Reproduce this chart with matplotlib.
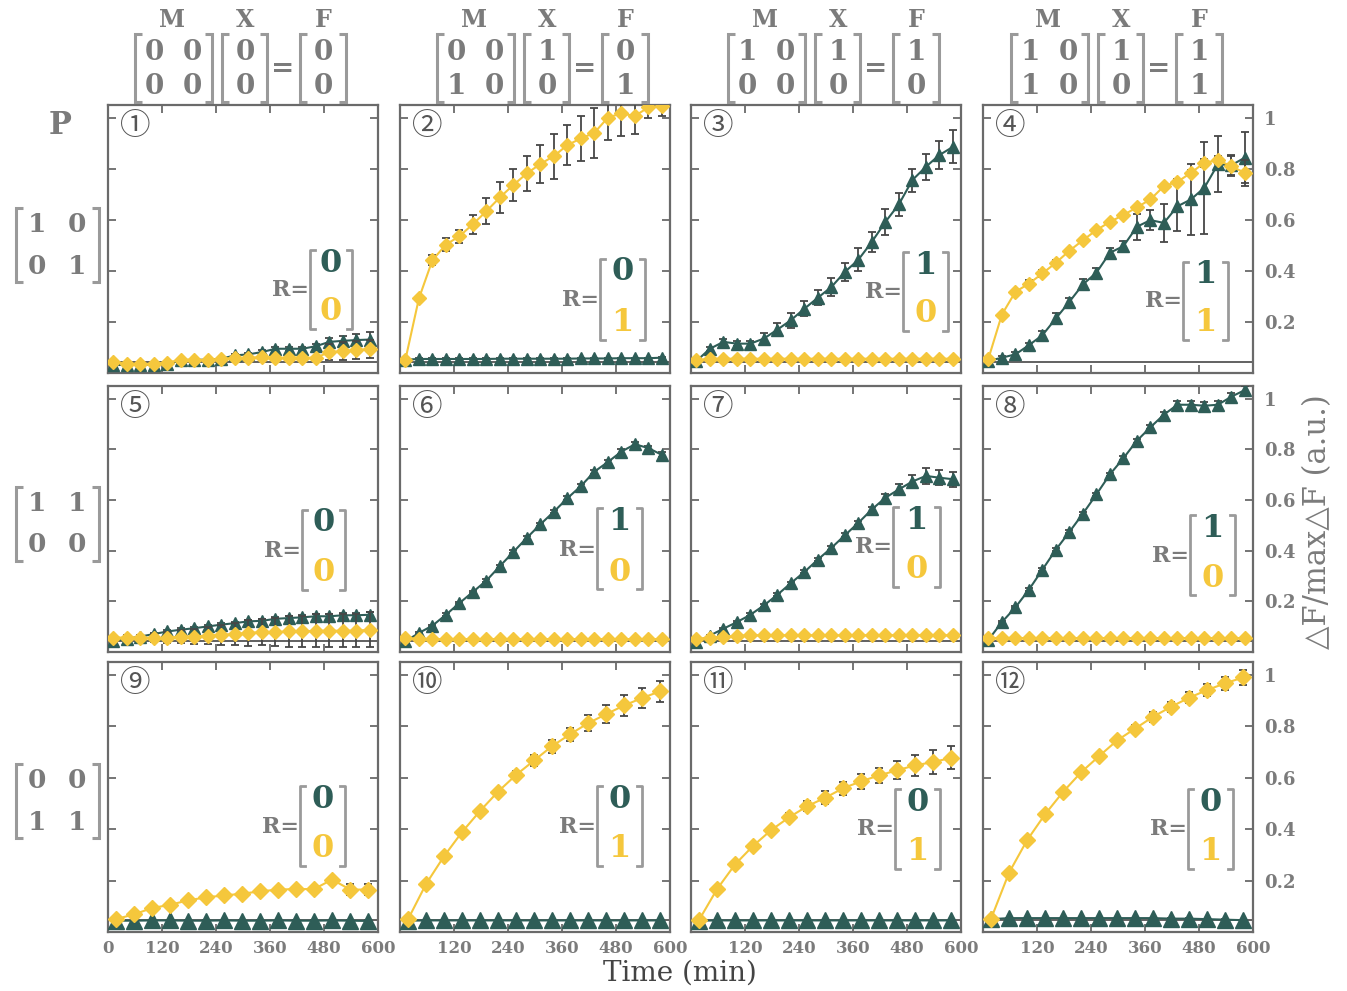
import numpy as np
import matplotlib.pyplot as plt
from matplotlib.lines import Line2D

W, H = 1347, 991

# tiempos de muestreo (min)
t20 = [12, 42, 72, 102, 132, 162, 192, 222, 252, 282, 312, 342, 372, 402, 432, 462, 492, 522, 552, 582]
t15 = [18, 58, 98, 138, 178, 218, 258, 298, 338, 378, 418, 458, 498, 538, 578]

# serie verde (triangulos), un panel por lista
green = [
    [0.030, 0.033, 0.033, 0.033, 0.037, 0.050, 0.052, 0.052, 0.056, 0.069, 0.073, 0.082, 0.095, 0.095, 0.095, 0.105, 0.122, 0.126, 0.129, 0.131],
    [0.052, 0.055, 0.055, 0.055, 0.055, 0.055, 0.055, 0.056, 0.056, 0.056, 0.056, 0.056, 0.056, 0.057, 0.057, 0.057, 0.058, 0.058, 0.058, 0.060],
    [0.047, 0.095, 0.122, 0.115, 0.115, 0.135, 0.170, 0.207, 0.252, 0.295, 0.337, 0.396, 0.444, 0.514, 0.592, 0.661, 0.756, 0.808, 0.854, 0.886],
    [0.047, 0.060, 0.073, 0.109, 0.148, 0.214, 0.279, 0.347, 0.393, 0.471, 0.497, 0.573, 0.599, 0.588, 0.653, 0.680, 0.726, 0.818, 0.814, 0.844],
    [0.044, 0.052, 0.061, 0.071, 0.081, 0.088, 0.094, 0.101, 0.108, 0.114, 0.121, 0.123, 0.131, 0.134, 0.137, 0.141, 0.141, 0.145, 0.145, 0.147],
    [0.042, 0.075, 0.104, 0.147, 0.193, 0.237, 0.282, 0.339, 0.395, 0.451, 0.504, 0.554, 0.607, 0.655, 0.712, 0.750, 0.791, 0.820, 0.805, 0.778],
    [0.039, 0.065, 0.092, 0.118, 0.147, 0.184, 0.226, 0.272, 0.316, 0.365, 0.411, 0.461, 0.510, 0.563, 0.609, 0.642, 0.673, 0.695, 0.688, 0.682],
    [0.048, 0.118, 0.176, 0.246, 0.325, 0.404, 0.474, 0.546, 0.622, 0.701, 0.765, 0.834, 0.887, 0.937, 0.976, 0.976, 0.972, 0.976, 1.008, 1.034],
    [0.044, 0.044, 0.045, 0.045, 0.044, 0.044, 0.045, 0.044, 0.044, 0.045, 0.044, 0.044, 0.045, 0.044, 0.043],
    [0.044, 0.045, 0.045, 0.045, 0.045, 0.045, 0.045, 0.045, 0.045, 0.045, 0.045, 0.045, 0.045, 0.045, 0.045],
    [0.044, 0.045, 0.045, 0.045, 0.045, 0.045, 0.045, 0.045, 0.045, 0.045, 0.045, 0.045, 0.045, 0.045, 0.045],
    [0.050, 0.054, 0.054, 0.054, 0.054, 0.054, 0.054, 0.054, 0.054, 0.054, 0.052, 0.052, 0.050, 0.048, 0.046],
]
green_err = [
    [0.003, 0.003, 0.003, 0.004, 0.004, 0.005, 0.005, 0.005, 0.006, 0.006, 0.007, 0.008, 0.008, 0.008, 0.008, 0.010, 0.015, 0.020, 0.025, 0.030],
    [0.002] * 20,
    [0.005, 0.008, 0.010, 0.010, 0.012, 0.020, 0.025, 0.030, 0.030, 0.030, 0.035, 0.035, 0.045, 0.040, 0.050, 0.045, 0.045, 0.050, 0.055, 0.065],
    [0.005, 0.008, 0.008, 0.010, 0.015, 0.020, 0.015, 0.020, 0.020, 0.020, 0.020, 0.050, 0.040, 0.076, 0.095, 0.140, 0.180, 0.110, 0.040, 0.100],
    [0.003, 0.003, 0.004, 0.004, 0.005, 0.005, 0.005, 0.006, 0.006, 0.006, 0.007, 0.007, 0.008, 0.008, 0.008, 0.009, 0.009, 0.010, 0.010, 0.010],
    [0.003, 0.004, 0.004, 0.005, 0.005, 0.005, 0.006, 0.006, 0.006, 0.007, 0.007, 0.007, 0.008, 0.008, 0.008, 0.008, 0.009, 0.010, 0.010, 0.010],
    [0.003, 0.004, 0.004, 0.005, 0.005, 0.005, 0.006, 0.006, 0.006, 0.007, 0.007, 0.008, 0.008, 0.010, 0.015, 0.020, 0.025, 0.030, 0.030, 0.030],
    [0.003, 0.004, 0.004, 0.005, 0.005, 0.005, 0.006, 0.006, 0.006, 0.007, 0.007, 0.008, 0.008, 0.010, 0.015, 0.015, 0.015, 0.015, 0.015, 0.015],
    [0.002] * 15,
    [0.002] * 15,
    [0.002] * 15,
    [0.002] * 15,
]

# serie amarilla (rombos)
yellow = [
    [0.043, 0.037, 0.034, 0.037, 0.041, 0.052, 0.052, 0.050, 0.056, 0.059, 0.059, 0.063, 0.060, 0.060, 0.060, 0.060, 0.082, 0.086, 0.089, 0.095],
    [0.052, 0.292, 0.442, 0.503, 0.536, 0.583, 0.634, 0.688, 0.737, 0.782, 0.819, 0.850, 0.893, 0.919, 0.941, 1.001, 1.017, 1.007, 1.041, 1.046],
    [0.050, 0.056, 0.056, 0.056, 0.056, 0.056, 0.056, 0.056, 0.056, 0.056, 0.056, 0.056, 0.056, 0.056, 0.056, 0.056, 0.056, 0.056, 0.056, 0.056],
    [0.056, 0.229, 0.318, 0.350, 0.390, 0.432, 0.479, 0.520, 0.560, 0.592, 0.619, 0.649, 0.680, 0.732, 0.749, 0.784, 0.824, 0.834, 0.810, 0.784],
    [0.057, 0.057, 0.057, 0.055, 0.057, 0.061, 0.061, 0.065, 0.068, 0.071, 0.075, 0.079, 0.079, 0.081, 0.081, 0.084, 0.084, 0.084, 0.084, 0.088],
    [0.055, 0.052, 0.051, 0.051, 0.051, 0.051, 0.051, 0.051, 0.051, 0.051, 0.051, 0.051, 0.051, 0.051, 0.051, 0.051, 0.051, 0.051, 0.051, 0.051],
    [0.052, 0.057, 0.061, 0.064, 0.066, 0.066, 0.066, 0.066, 0.066, 0.066, 0.066, 0.066, 0.066, 0.066, 0.066, 0.066, 0.066, 0.066, 0.066, 0.066],
    [0.054, 0.056, 0.055, 0.055, 0.055, 0.055, 0.055, 0.055, 0.055, 0.055, 0.055, 0.055, 0.055, 0.055, 0.055, 0.055, 0.055, 0.055, 0.055, 0.055],
    [0.050, 0.069, 0.093, 0.106, 0.123, 0.135, 0.142, 0.149, 0.158, 0.165, 0.167, 0.167, 0.204, 0.165, 0.165],
    [0.050, 0.187, 0.295, 0.389, 0.471, 0.546, 0.611, 0.667, 0.723, 0.769, 0.812, 0.847, 0.881, 0.910, 0.936],
    [0.047, 0.167, 0.263, 0.335, 0.396, 0.446, 0.489, 0.522, 0.559, 0.586, 0.609, 0.629, 0.648, 0.661, 0.677],
    [0.052, 0.231, 0.357, 0.458, 0.545, 0.621, 0.684, 0.745, 0.791, 0.837, 0.876, 0.911, 0.941, 0.967, 0.990],
]
yellow_err = [
    [0.003, 0.003, 0.003, 0.003, 0.004, 0.004, 0.004, 0.005, 0.005, 0.005, 0.006, 0.006, 0.006, 0.007, 0.007, 0.008, 0.030, 0.035, 0.035, 0.035],
    [0.000, 0.005, 0.020, 0.026, 0.026, 0.037, 0.050, 0.060, 0.063, 0.067, 0.076, 0.088, 0.080, 0.088, 0.097, 0.090, 0.090, 0.070, 0.040, 0.040],
    [0.002] * 20,
    [0.002, 0.005, 0.008, 0.015, 0.015, 0.010, 0.008, 0.008, 0.008, 0.008, 0.008, 0.008, 0.008, 0.010, 0.010, 0.012, 0.015, 0.015, 0.040, 0.050],
    [0.005, 0.010, 0.010, 0.015, 0.020, 0.025, 0.030, 0.035, 0.040, 0.045, 0.050, 0.050, 0.055, 0.060, 0.060, 0.065, 0.065, 0.065, 0.065, 0.070],
    [0.002] * 20,
    [0.002] * 20,
    [0.002] * 20,
    [0.003, 0.003, 0.004, 0.004, 0.005, 0.005, 0.005, 0.006, 0.006, 0.006, 0.007, 0.007, 0.008, 0.020, 0.020],
    [0.004, 0.005, 0.005, 0.006, 0.010, 0.012, 0.015, 0.020, 0.025, 0.025, 0.030, 0.035, 0.040, 0.040, 0.040],
    [0.000, 0.005, 0.005, 0.005, 0.010, 0.015, 0.020, 0.025, 0.025, 0.030, 0.030, 0.035, 0.040, 0.045, 0.045],
    [0.005, 0.008, 0.008, 0.008, 0.008, 0.008, 0.010, 0.012, 0.015, 0.020, 0.020, 0.022, 0.025, 0.025, 0.030],
]

# matrices de los encabezados
m_mats = [[["0", "0"], ["0", "0"]], [["0", "0"], ["1", "0"]], [["1", "0"], ["0", "0"]], [["1", "0"], ["1", "0"]]]
x_vecs = [["0", "0"], ["1", "0"], ["1", "0"], ["1", "0"]]
f_vecs = [["0", "0"], ["0", "1"], ["1", "0"], ["1", "1"]]
p_mats = [[["1", "0"], ["0", "1"]], [["1", "1"], ["0", "0"]], [["0", "0"], ["1", "1"]]]
r_vecs = [["0", "0"], ["0", "1"], ["1", "0"], ["1", "1"],
          ["0", "0"], ["1", "0"], ["1", "0"], ["1", "0"],
          ["0", "0"], ["0", "1"], ["0", "1"], ["0", "1"]]
panel_nums = ['①', '②', '③', '④', '⑤', '⑥', '⑦', '⑧', '⑨', '⑩', '⑪', '⑫']
x_ticks = [0, 120, 240, 360, 480, 600]
y_ticks = [0.2, 0.4, 0.6, 0.8, 1.0]
y_tick_labels = ['0.2', '0.4', '0.6', '0.8', '1']

# posiciones (pixeles)
col_left = [108, 400, 691, 983]
col_w = 270
row_top = [105, 386, 662]
row_h = [268, 266, 270]
head_c = [242, 544, 835, 1118]
p_c = [245, 524, 801]
# R: borde izq., borde der., y fila sup., y fila inf. (fraccion de ejes)
r_pos = [(0.748, 0.904, 0.41, 0.228), (0.741, 0.907, 0.377, 0.19), (0.785, 0.952, 0.40, 0.222), (0.741, 0.907, 0.366, 0.19),
         (0.719, 0.878, 0.485, 0.297), (0.730, 0.896, 0.49, 0.30), (0.748, 0.922, 0.496, 0.31), (0.767, 0.933, 0.466, 0.278),
         (0.711, 0.878, 0.49, 0.31), (0.730, 0.896, 0.49, 0.31), (0.756, 0.922, 0.48, 0.30), (0.759, 0.926, 0.48, 0.30)]

TEAL = '#2e5d57'
YELLOW = '#f5c73c'
GRAY = '#7b7b7b'
BRK = '#9a9a9a'
SPINE = '#6a6a6a'
ERR = '#474747'

plt.rcParams['font.family'] = ['DejaVu Serif', 'DejaVu Sans']

fig = plt.figure(figsize=(W / 100, H / 100), dpi=100)


def fig_line(xs, ys, lw, color):
    fig.add_artist(Line2D([x / W for x in xs], [1 - y / H for y in ys], transform=fig.transFigure,
                          lw=lw, color=color, solid_capstyle='butt', solid_joinstyle='miter'))


def fig_bracket(x0, x1, y0, y1, serif, lw, color):
    fig_line([x0 + serif, x0, x0, x0 + serif], [y0, y0, y1, y1], lw, color)
    fig_line([x1 - serif, x1, x1, x1 - serif], [y0, y0, y1, y1], lw, color)


def fig_text(x, y, s, **kw):
    fig.text(x / W, 1 - y / H, s, ha='center', va='center', **kw)


# encabezados M X = F
for c in range(4):
    hc = head_c[c]
    for lab, dx in (('M', -70), ('X', 3), ('F', 81)):
        fig_text(hc + dx, 20, lab, size=17, weight='bold', color=GRAY)
    fig_bracket(hc - 107, hc - 30, 34, 102, 7, 2.2, BRK)
    fig_bracket(hc - 20, hc + 25, 34, 102, 7, 2.2, BRK)
    fig_bracket(hc + 58, hc + 104, 34, 102, 7, 2.2, BRK)
    for k in range(2):
        yy = 52 + 35 * k
        fig_text(hc - 88, yy, m_mats[c][k][0], size=20, weight='bold', color=GRAY)
        fig_text(hc - 50, yy, m_mats[c][k][1], size=20, weight='bold', color=GRAY)
        fig_text(hc + 3, yy, x_vecs[c][k], size=20, weight='bold', color=GRAY)
        fig_text(hc + 81, yy, f_vecs[c][k], size=20, weight='bold', color=GRAY)
    fig_text(hc + 41, 68, '=', size=20, weight='bold', color=GRAY)

# matrices P a la izquierda
fig_text(60, 126, 'P', size=22, weight='bold', color=GRAY)
for r in range(3):
    yc = p_c[r]
    fig_bracket(16, 99, yc - 37, yc + 37, 7, 2.2, BRK)
    for k in range(2):
        yy = yc - 21 + 42 * k
        fig_text(37, yy, p_mats[r][k][0], size=19, weight='bold', color=GRAY)
        fig_text(77, yy, p_mats[r][k][1], size=19, weight='bold', color=GRAY)

for i in range(12):
    r, c = divmod(i, 4)
    ax = fig.add_axes([col_left[c] / W, 1 - (row_top[r] + row_h[r]) / H, col_w / W, row_h[r] / H])
    t = t20 if r < 2 else t15
    ms_t = 9 if r < 2 else 11
    ms_d = 7 if r < 2 else 8.5

    ax.axhline(0.045, color='#555555', lw=1.3, zorder=1)
    ax.errorbar(t, green[i], yerr=green_err[i], color=TEAL, marker='^', ms=ms_t, lw=1.5,
                mec=TEAL, ecolor=ERR, elinewidth=1.3, capsize=3, capthick=1.3, zorder=3)
    ax.errorbar(t, yellow[i], yerr=yellow_err[i], color=YELLOW, marker='D', ms=ms_d, lw=1.5,
                mec=YELLOW, ecolor=ERR, elinewidth=1.3, capsize=3, capthick=1.3, zorder=4)

    ax.set_xlim(0, 600)
    ax.set_ylim(0, 1.05)
    ax.set_xticks(x_ticks)
    ax.set_yticks(y_ticks)
    ax.set_yticklabels(y_tick_labels)
    if c == 0:
        ax.set_xticklabels([str(v) for v in x_ticks])
    else:
        ax.set_xticklabels([''] + [str(v) for v in x_ticks[1:]])
    ax.tick_params(direction='in', length=6, width=1.3, color=SPINE,
                   top=True, bottom=True, left=True, right=True,
                   labelleft=False, labelright=(c == 3), labelbottom=(r == 2))
    ax.tick_params(axis='x', labelsize=12, labelcolor=GRAY, pad=6)
    ax.tick_params(axis='y', labelsize=13, labelcolor=GRAY, pad=8)
    for lab in ax.get_xticklabels() + ax.get_yticklabels():
        lab.set_fontweight('bold')
    for s in ax.spines.values():
        s.set_color(SPINE)
        s.set_linewidth(1.6)

    # numero del panel
    ax.text(0.10, 0.92, panel_nums[i], transform=ax.transAxes, ha='center', va='center',
            size=22, color='#555555', family=['Noto Sans CJK JP', 'DejaVu Sans'])

    # vector R
    bl, br, ty, by = r_pos[i]
    top_b, bot_b = ty + 0.05, by - 0.065
    sr = 0.018
    for xs in ([bl + sr, bl, bl, bl + sr], [br - sr, br, br, br - sr]):
        ax.add_line(Line2D(xs, [top_b, top_b, bot_b, bot_b], transform=ax.transAxes,
                           color=BRK, lw=2, clip_on=False))
    xm = (bl + br) / 2
    ax.text(xm, ty, r_vecs[i][0], transform=ax.transAxes, ha='center', va='center',
            size=23, weight='bold', color=TEAL)
    ax.text(xm, by, r_vecs[i][1], transform=ax.transAxes, ha='center', va='center',
            size=23, weight='bold', color=YELLOW)
    ax.text(bl - 0.005, (ty + by) / 2 - 0.01, 'R=', transform=ax.transAxes, ha='right', va='center',
            size=16, weight='bold', color=GRAY)

fig_text(680, 973, 'Time (min)', size=20, color='#444444')
fig_text(1318, 522, '△F/max△F (a.u.)', size=22, color=GRAY, rotation=90)

fig.savefig('out.png', dpi=100)
